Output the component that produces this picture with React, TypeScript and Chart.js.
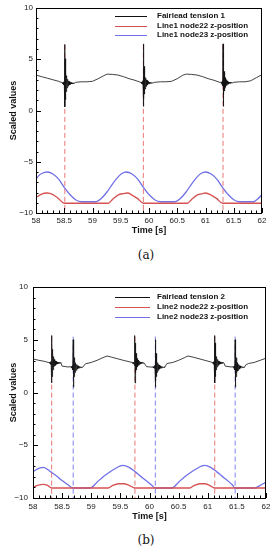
import React, { useEffect, useRef } from "react";
import { Chart, registerables } from "chart.js";
Chart.register(...registerables);

// ---------------- data ----------------
const xTicks = [58, 58.5, 59, 59.5, 60, 60.5, 61, 61.5, 62];
const yTicks = [-10, -5, 0, 5, 10];

// spike oscillation shape (time offset [s], deviation from local level)
const spikeDt = [-0.04, -0.035, -0.03, -0.025, -0.02, -0.015, -0.01, -0.005, 0, 0.003, 0.006, 0.009, 0.012, 0.016, 0.02, 0.024, 0.028, 0.032, 0.036, 0.04, 0.045, 0.05, 0.055, 0.06, 0.065, 0.07, 0.075, 0.08, 0.085, 0.09, 0.095, 0.1, 0.11, 0.12, 0.13, 0.14, 0.15, 0.16];
const spikeDevA = [0.05, -0.05, 0.08, -0.08, 0.1, -0.15, 0.2, -0.3, 3.8, -2.3, 2.4, -1.6, 1.6, -1.1, 1.1, -0.8, 0.75, -0.6, 0.5, -0.45, 0.4, -0.35, 0.3, -0.27, 0.24, -0.2, 0.18, -0.16, 0.14, -0.12, 0.1, -0.09, 0.08, -0.06, 0.05, -0.04, 0.03, -0.02];
const spikeDevB = [0.04, -0.04, 0.06, -0.06, 0.08, -0.12, 0.16, -0.25, 2.6, -1.9, 1.9, -1.3, 1.3, -0.9, 0.9, -0.65, 0.6, -0.5, 0.42, -0.38, 0.33, -0.3, 0.26, -0.23, 0.2, -0.18, 0.16, -0.14, 0.12, -0.1, 0.09, -0.08, 0.07, -0.05, 0.04, -0.03, 0.03, -0.02];

// ---- panel (a) ----
const tensionA_t = [58.0, 58.1, 58.2, 58.3, 58.4, 58.46, 58.7, 58.8, 58.9, 59.0, 59.1, 59.2, 59.26, 59.35, 59.45, 59.55, 59.65, 59.75, 59.85, 60.1, 60.2, 60.3, 60.4, 60.5, 60.6, 60.66, 60.75, 60.85, 60.95, 61.05, 61.15, 61.25, 61.5, 61.6, 61.7, 61.8, 61.9, 62.0];
const tensionA_v = [3.46, 3.3, 3.15, 3.0, 2.85, 2.72, 2.75, 2.8, 2.8, 2.85, 3.1, 3.4, 3.55, 3.52, 3.46, 3.3, 3.1, 2.95, 2.75, 2.75, 2.8, 2.8, 2.85, 3.1, 3.45, 3.55, 3.52, 3.46, 3.3, 3.1, 2.95, 2.75, 2.75, 2.8, 2.8, 2.9, 3.2, 3.5];
const spikeA_t = [58.51, 59.9, 61.31];
const spikeA_level = [2.65, 2.7, 2.7];
const dashA_top = 6.4;

const node22A_t = [58.0, 58.1, 58.2, 58.3, 58.4, 58.5, 59.28, 59.35, 59.45, 59.55, 59.62, 59.7, 59.8, 59.9, 60.68, 60.75, 60.85, 60.95, 61.0, 61.1, 61.2, 61.3, 62.0];
const node22A_v = [-8.5, -8.15, -8.05, -8.2, -8.6, -9.05, -9.05, -8.7, -8.25, -8.1, -8.05, -8.25, -8.6, -9.05, -9.05, -8.7, -8.25, -8.1, -8.05, -8.25, -8.6, -9.05, -9.05];
const node23A_t = [58.0, 58.05, 58.1, 58.2, 58.3, 58.4, 58.5, 58.6, 58.7, 58.8, 59.05, 59.15, 59.25, 59.35, 59.45, 59.52, 59.6, 59.7, 59.8, 59.9, 60.0, 60.1, 60.2, 60.45, 60.55, 60.65, 60.75, 60.85, 60.92, 61.0, 61.1, 61.2, 61.3, 61.4, 61.5, 61.6, 61.85, 61.93, 62.0];
const node23A_v = [-6.7, -6.35, -6.15, -6.0, -6.2, -6.7, -7.5, -8.2, -8.7, -8.9, -8.9, -8.6, -8.0, -7.2, -6.5, -6.15, -6.0, -6.2, -6.7, -7.5, -8.2, -8.7, -8.9, -8.9, -8.6, -8.0, -7.2, -6.5, -6.15, -6.0, -6.2, -6.7, -7.5, -8.2, -8.7, -8.9, -8.9, -8.6, -8.2];

// ---- panel (b) ----
const tensionB_t = [58.0, 58.1, 58.2, 58.26, 58.5, 58.6, 58.9, 59.0, 59.1, 59.2, 59.27, 59.35, 59.45, 59.55, 59.65, 59.7, 59.95, 60.05, 60.3, 60.4, 60.5, 60.6, 60.66, 60.75, 60.85, 60.95, 61.05, 61.3, 61.4, 61.65, 61.7, 61.8, 61.9, 62.0];
const tensionB_v = [3.18, 3.05, 2.95, 2.85, 2.5, 2.42, 2.72, 2.85, 3.05, 3.3, 3.46, 3.35, 3.2, 3.05, 2.92, 2.85, 2.45, 2.4, 2.75, 2.85, 3.05, 3.3, 3.46, 3.35, 3.2, 3.05, 2.9, 2.5, 2.42, 2.6, 2.75, 2.85, 3.05, 3.25];
const spikeB_t = [58.32, 58.69, 59.75, 60.1, 61.12, 61.47];
const spikeB_level = [2.8, 2.4, 2.8, 2.4, 2.8, 2.4];
const dashB_red = [58.32, 59.75, 61.12];
const dashB_blue = [58.69, 60.1, 61.47];
const dashB_top = 5.3;

const node22B_t = [58.0, 58.08, 58.18, 58.25, 58.32, 59.29, 59.37, 59.47, 59.55, 59.65, 59.75, 60.69, 60.77, 60.87, 60.95, 61.03, 61.12, 62.0];
const node22B_v = [-9.0, -8.8, -8.7, -8.8, -9.05, -9.05, -8.8, -8.65, -8.65, -8.8, -9.05, -9.05, -8.8, -8.65, -8.65, -8.8, -9.05, -9.05];
const node23B_t = [58.0, 58.1, 58.18, 58.3, 58.4, 58.5, 58.6, 58.69, 58.98, 59.1, 59.2, 59.3, 59.4, 59.5, 59.55, 59.65, 59.75, 59.85, 59.95, 60.03, 60.1, 60.38, 60.5, 60.6, 60.7, 60.8, 60.9, 60.95, 61.05, 61.15, 61.25, 61.35, 61.42, 61.47, 61.8, 61.9, 62.0];
const node23B_v = [-7.5, -7.2, -7.1, -7.5, -7.9, -8.35, -8.75, -9.05, -9.05, -8.5, -8.0, -7.6, -7.25, -6.95, -6.9, -7.1, -7.5, -7.95, -8.4, -8.75, -9.05, -9.05, -8.5, -8.0, -7.6, -7.25, -6.95, -6.9, -7.1, -7.5, -7.95, -8.4, -8.75, -9.05, -9.05, -8.8, -8.5];

// ---------------- helpers ----------------
const FONT = "'Liberation Sans', Arial, Helvetica, sans-serif";
const BLACK = "#111";
const RED = "rgb(214,82,82)";
const BLUE = "rgb(112,112,232)";
const RED_DASH = "rgb(232,118,118)";
const BLUE_DASH = "rgb(128,128,236)";

function pairs(ts: number[], vs: number[]) {
  return ts.map((t, i) => ({ x: t, y: vs[i] }));
}
function tension(baseT: number[], baseV: number[], sT: number[], sL: number[], dev: number[]) {
  const pts = pairs(baseT, baseV);
  sT.forEach((t, k) => spikeDt.forEach((d, i) => pts.push({ x: t + d, y: sL[k] + dev[i] })));
  pts.sort((a, b) => a.x - b.x);
  return pts;
}
function vline(t: number, top: number, color: string) {
  return {
    label: "",
    data: [{ x: t, y: top }, { x: t, y: -10 }],
    borderColor: color,
    borderWidth: 1,
    borderDash: [5, 3],
    pointRadius: 0,
    fill: false,
  };
}
function curve(label: string, data: any[], color: string, width: number, smooth: boolean) {
  return {
    label,
    data,
    borderColor: color,
    borderWidth: width,
    pointRadius: 0,
    fill: false,
    cubicInterpolationMode: smooth ? "monotone" : "default",
    tension: 0,
  };
}

type Spec = {
  W: number; H: number;
  plot: { left: number; right: number; top: number; bottom: number };
  yTickPad: number; xTickPad: number; yTitlePad: number; xTitlePad: number;
  legend: { x0: number; x1: number; tx: number; ys: number[] };
  legendItems: { label: string; color: string }[];
  datasets: any[];
};

function makeConfig(s: Spec): any {
  const framePlugin = {
    id: "frameTicks",
    afterDraw(chart: any) {
      const { ctx, chartArea: a, scales } = chart;
      ctx.save();
      ctx.strokeStyle = "#000";
      ctx.lineWidth = 1;
      ctx.strokeRect(Math.round(a.left) + 0.5, Math.round(a.top) + 0.5, Math.round(a.right - a.left) - 1, Math.round(a.bottom - a.top));
      ctx.beginPath();
      for (let i = -10; i <= 10; i++) {
        const y = Math.round(scales.y.getPixelForValue(i)) + 0.5;
        const len = i % 5 === 0 ? 5 : 2.5;
        ctx.moveTo(a.left, y);
        ctx.lineTo(a.left + len, y);
      }
      for (let i = 0; i <= 40; i++) {
        const x = Math.round(scales.x.getPixelForValue(58 + i / 10)) + 0.5;
        const len = i % 5 === 0 ? 5 : 2.5;
        ctx.moveTo(x, a.bottom);
        ctx.lineTo(x, a.bottom - len);
      }
      ctx.stroke();
      // legend
      const L = s.legend;
      ctx.font = `bold 8px ${FONT}`;
      ctx.textBaseline = "middle";
      ctx.textAlign = "left";
      s.legendItems.forEach((it, i) => {
        const y = L.ys[i] + 0.5;
        ctx.beginPath();
        ctx.strokeStyle = it.color;
        ctx.lineWidth = 1;
        ctx.moveTo(L.x0, y);
        ctx.lineTo(L.x1, y);
        ctx.stroke();
        ctx.fillStyle = "#111";
        ctx.fillText(it.label, L.tx, L.ys[i]);
      });
      ctx.restore();
    },
  };
  const p = s.plot;
  return {
    type: "line",
    data: { datasets: s.datasets },
    options: {
      animation: false,
      responsive: false,
      maintainAspectRatio: false,
      layout: { padding: { top: p.top, right: s.W - p.right, left: 0, bottom: 0 } },
      plugins: { legend: { display: false }, tooltip: { enabled: false } },
      elements: { point: { radius: 0 } },
      scales: {
        x: {
          type: "linear",
          min: 58,
          max: 62,
          afterFit: (sc: any) => { sc.height = s.H - p.bottom; },
          afterBuildTicks: (sc: any) => { sc.ticks = xTicks.map((v) => ({ value: v })); },
          grid: { display: false, drawTicks: false },
          border: { display: false },
          ticks: {
            autoSkip: false,
            maxRotation: 0,
            padding: s.xTickPad,
            font: { family: FONT, size: 8 },
            color: "#222",
            callback: (v: any) => String(v),
          },
          title: {
            display: true,
            text: "Time [s]",
            color: "#111",
            font: { family: FONT, size: 9, weight: "bold" },
            padding: { top: 0, bottom: s.xTitlePad },
          },
        },
        y: {
          type: "linear",
          min: -10,
          max: 10,
          afterFit: (sc: any) => { sc.width = p.left; },
          afterBuildTicks: (sc: any) => { sc.ticks = yTicks.map((v) => ({ value: v })); },
          grid: { display: false, drawTicks: false },
          border: { display: false },
          ticks: {
            padding: s.yTickPad,
            font: { family: FONT, size: 8 },
            color: "#222",
            callback: (v: any) => (v < 0 ? "\u2212" + Math.abs(v) : String(v)),
          },
          title: {
            display: true,
            text: "Scaled values",
            color: "#111",
            font: { family: FONT, size: 9, weight: "bold" },
            padding: { top: s.yTitlePad, bottom: 0 },
          },
        },
      },
    },
    plugins: [framePlugin],
  };
}

const specA: Spec = {
  W: 274, H: 245,
  plot: { left: 36, right: 262, top: 8, bottom: 213 },
  yTickPad: 3, xTickPad: 3, yTitlePad: 8.5, xTitlePad: 8.6,
  legend: { x0: 115, x1: 147, tx: 157, ys: [16, 26, 35] },
  legendItems: [
    { label: "Fairlead tension 1", color: BLACK },
    { label: "Line1 node22 z-position", color: RED },
    { label: "Line1 node23 z-position", color: BLUE },
  ],
  datasets: [
    curve("Fairlead tension 1", tension(tensionA_t, tensionA_v, spikeA_t, spikeA_level, spikeDevA), BLACK, 0.8, false),
    ...spikeA_t.map((t) => vline(t, dashA_top, RED_DASH)),
    curve("Line1 node22 z-position", pairs(node22A_t, node22A_v), RED, 1.3, true),
    curve("Line1 node23 z-position", pairs(node23A_t, node23A_v), BLUE, 1.3, true),
  ],
};

const specB: Spec = {
  W: 274, H: 255,
  plot: { left: 33, right: 266, top: 12, bottom: 223 },
  yTickPad: 5, xTickPad: 3.5, yTitlePad: 8.5, xTitlePad: 7.6,
  legend: { x0: 115, x1: 150, tx: 157, ys: [22, 32, 42] },
  legendItems: [
    { label: "Fairlead tension 2", color: BLACK },
    { label: "Line2 node22 z-position", color: RED },
    { label: "Line2 node23 z-position", color: BLUE },
  ],
  datasets: [
    curve("Fairlead tension 2", tension(tensionB_t, tensionB_v, spikeB_t, spikeB_level, spikeDevB), BLACK, 0.8, false),
    ...dashB_red.map((t) => vline(t, dashB_top, RED_DASH)),
    ...dashB_blue.map((t) => vline(t, dashB_top, BLUE_DASH)),
    curve("Line2 node22 z-position", pairs(node22B_t, node22B_v), RED, 1.3, true),
    curve("Line2 node23 z-position", pairs(node23B_t, node23B_v), BLUE, 1.3, true),
  ],
};

function Panel({ spec, top }: { spec: Spec; top: number }) {
  const ref = useRef<HTMLCanvasElement | null>(null);
  useEffect(() => {
    if (!ref.current) return;
    const chart = new Chart(ref.current, makeConfig(spec));
    return () => chart.destroy();
  }, [spec]);
  return (
    <canvas
      ref={ref}
      width={spec.W}
      height={spec.H}
      style={{ position: "absolute", left: 0, top, width: spec.W, height: spec.H }}
    />
  );
}

const captionStyle: React.CSSProperties = {
  position: "absolute",
  left: 0,
  width: 292,
  textAlign: "center",
  fontFamily: "'DejaVu Serif', 'Liberation Serif', serif",
  fontSize: 12,
  lineHeight: "14px",
  color: "#111",
};

export default function App() {
  return (
    <div style={{ position: "absolute", left: 0, top: 0, width: 274, height: 550, background: "#fff", overflow: "hidden" }}>
      <Panel spec={specA} top={0} />
      <div style={{ ...captionStyle, top: 247.5 }}>(a)</div>
      <Panel spec={specB} top={275} />
      <div style={{ ...captionStyle, top: 533 }}>(b)</div>
    </div>
  );
}
